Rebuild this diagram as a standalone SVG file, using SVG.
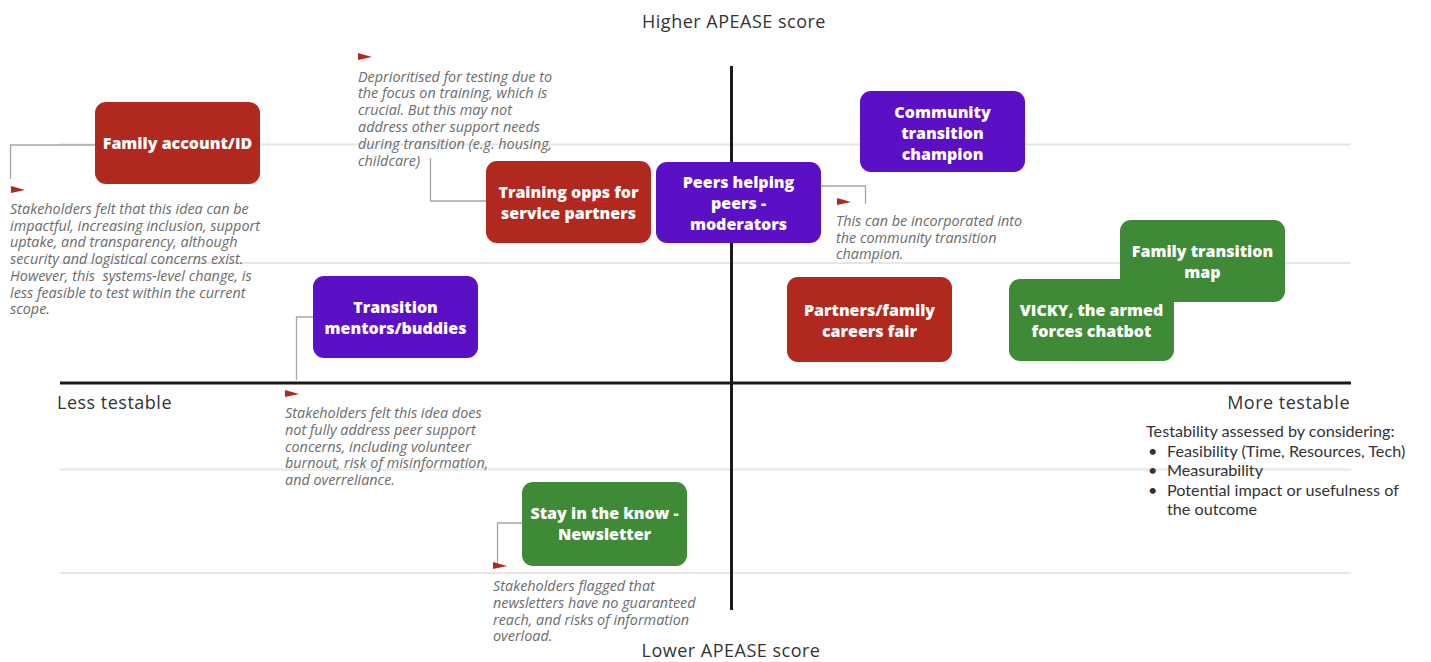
<svg xmlns="http://www.w3.org/2000/svg" width="1431" height="662" viewBox="0 0 1431 662">
  <defs>
    <style>
      .grid { stroke: #e6e6e6; stroke-width: 2; fill: none; }
      .axis { stroke: #1a1a1a; stroke-width: 3; fill: none; }
      .red { fill: #b1281f; }
      .purple { fill: #5c10c6; }
      .green { fill: #3f8a36; }
      .label { font-family: "Open Sans", "Liberation Sans", sans-serif; font-weight: 800; font-size: 16px; fill: #ffffff; text-anchor: middle; }
      .note { font-family: "Open Sans", "Liberation Sans", sans-serif; font-style: italic; font-size: 14.4px; fill: #6b6b6b; }
      .axislabel { font-family: "Open Sans", "Liberation Sans", sans-serif; font-size: 18px; letter-spacing: 0.5px; fill: #333333; }
      .legend { font-family: "Lato", "Open Sans", "Liberation Sans", sans-serif; font-size: 16.2px; fill: #333333; }
      .conn { stroke: #a6a6a6; stroke-width: 1.3; fill: none; }
      .flag { fill: #b1281f; }
      .squiggle { stroke: #e02020; stroke-width: 1.2; fill: none; }
    </style>
    <path id="flag" d="M0,0 L14,4 L0,7 Z"/>
  </defs>

  <rect width="1431" height="662" fill="#ffffff"/>

  <!-- background grid -->
  <g id="grid">
    <line class="grid" x1="60" y1="144.5" x2="1351" y2="144.5"/>
    <line class="grid" x1="60" y1="263" x2="1351" y2="263"/>
    <line class="grid" x1="60" y1="469.5" x2="1351" y2="469.5"/>
    <line class="grid" x1="60" y1="573" x2="1351" y2="573"/>
  </g>

  <!-- axes -->
  <g id="axes">
    <line class="axis" x1="60" y1="383" x2="1351" y2="383"/>
    <line class="axis" x1="731.5" y1="66" x2="731.5" y2="610"/>
    <text class="axislabel" x="734" y="28" text-anchor="middle">Higher APEASE score</text>
    <text class="axislabel" x="731" y="657" text-anchor="middle">Lower APEASE score</text>
    <text class="axislabel" x="57" y="409">Less testable</text>
    <text class="axislabel" x="1350" y="409" text-anchor="end">More testable</text>
  </g>

  <!-- connectors and flags -->
  <g id="connectors">
    <polyline class="conn" points="95,145 10.5,145 10.5,179"/>
    <use href="#flag" class="flag" x="11" y="186"/>
    <polyline class="conn" points="487,201 430.5,201 430.5,158"/>
    <use href="#flag" class="flag" x="358" y="53"/>
    <polyline class="conn" points="821,186 865.5,186 865.5,204"/>
    <use href="#flag" class="flag" x="837" y="198"/>
    <polyline class="conn" points="313,317 296.5,317 296.5,380"/>
    <use href="#flag" class="flag" x="285" y="390"/>
    <polyline class="conn" points="522,523 497.5,523 497.5,564"/>
    <use href="#flag" class="flag" x="493" y="562"/>
  </g>

  <!-- annotations -->
  <g id="note-family-account">
    <text class="note" x="10" y="214">Stakeholders felt that this idea can be</text>
    <text class="note" x="10" y="230.7">impactful, increasing inclusion, support</text>
    <text class="note" x="10" y="247.4">uptake, and transparency, although</text>
    <text class="note" x="10" y="264.1">security and logistical concerns exist.</text>
    <text class="note" x="10" y="280.8" xml:space="preserve">However, this  systems-level change, is</text>
    <text class="note" x="10" y="297.5">less feasible to test within the current</text>
    <text class="note" x="10" y="314.2">scope.</text>
  </g>
  <g id="note-training">
    <text class="note" x="358" y="81.5">Deprioritised for testing due to</text>
    <text class="note" x="358" y="98.3">the focus on training, which is</text>
    <text class="note" x="358" y="115.1">crucial. But this may not</text>
    <text class="note" x="358" y="131.9">address other support needs</text>
    <text class="note" x="358" y="148.7">during transition (e.g. housing,</text>
    <text class="note" x="358" y="165.5">childcare)</text>
  </g>
  <g id="note-peers">
    <text class="note" x="836" y="226">This can be incorporated into</text>
    <text class="note" x="836" y="242.7">the community transition</text>
    <text class="note" x="836" y="259.4">champion.</text>
  </g>
  <g id="note-mentors">
    <text class="note" x="285" y="418">Stakeholders felt this idea does</text>
    <text class="note" x="285" y="434.8">not fully address peer support</text>
    <text class="note" x="285" y="451.6">concerns, including volunteer</text>
    <text class="note" x="285" y="468.4">burnout, risk of misinformation,</text>
    <text class="note" x="285" y="485.2">and overreliance.</text>
  </g>
  <g id="note-newsletter">
    <text class="note" x="493" y="591">Stakeholders flagged that</text>
    <text class="note" x="493" y="607.8">newsletters have no guaranteed</text>
    <text class="note" x="493" y="624.6">reach, and risks of information</text>
    <text class="note" x="493" y="641.4">overload.</text>
  </g>

  <!-- idea nodes -->
  <g id="node-family-account">
    <rect class="red" x="95" y="102" width="165" height="82" rx="11"/>
    <text class="label" x="177.5" y="149">Family account/ID</text>
  </g>
  <g id="node-training-opps">
    <rect class="red" x="486" y="161" width="165" height="82" rx="11"/>
    <text class="label" x="568.5" y="198">Training opps for</text>
    <text class="label" x="568.5" y="218.5">service partners</text>
    <path class="squiggle" d="M573,202.5 l2,-1.5 l2,1.5 l2,-1.5 l2,1.5 l2,-1.5 l2,1.5 l2,-1.5 l2,1.5 l2,-1.5 l2,1.5 l2,-1.5 l2,1.5 l2,-1.5 l2,1.5 l2,-1.5 l2,1.5 l2,-1.5 l2,1.5 l2,-1.5"/>
  </g>
  <g id="node-peers-helping-peers">
    <rect class="purple" x="656" y="162" width="165" height="81" rx="11"/>
    <text class="label" x="738.5" y="188">Peers helping</text>
    <text class="label" x="738.5" y="209">peers -</text>
    <text class="label" x="738.5" y="230">moderators</text>
  </g>
  <g id="node-community-champion">
    <rect class="purple" x="860" y="91" width="165" height="81" rx="11"/>
    <text class="label" x="942.5" y="118">Community</text>
    <text class="label" x="942.5" y="139">transition</text>
    <text class="label" x="942.5" y="160">champion</text>
  </g>
  <g id="node-transition-mentors">
    <rect class="purple" x="313" y="276" width="165" height="82" rx="11"/>
    <text class="label" x="395.5" y="313">Transition</text>
    <text class="label" x="395.5" y="333.5">mentors/buddies</text>
  </g>
  <g id="node-careers-fair">
    <rect class="red" x="787" y="277" width="165" height="85" rx="11"/>
    <text class="label" x="869.5" y="316">Partners/family</text>
    <text class="label" x="869.5" y="336.5">careers fair</text>
  </g>
  <g id="node-family-transition-map">
    <rect class="green" x="1120" y="220" width="165" height="82" rx="11"/>
    <text class="label" x="1202.5" y="257">Family transition</text>
    <text class="label" x="1202.5" y="277.5">map</text>
  </g>
  <g id="node-vicky">
    <rect class="green" x="1009" y="279" width="165" height="82" rx="11"/>
    <text class="label" x="1091.5" y="316">VICKY, the armed</text>
    <text class="label" x="1091.5" y="336.5">forces chatbot</text>
  </g>
  <g id="node-newsletter">
    <rect class="green" x="522" y="482" width="165" height="84" rx="11"/>
    <text class="label" x="604.5" y="519">Stay in the know -</text>
    <text class="label" x="604.5" y="539.5">Newsletter</text>
  </g>

  <!-- testability legend -->
  <g id="legend">
    <text class="legend" x="1146" y="437">Testability assessed by considering:</text>
    <text class="legend" x="1148" y="456.6">•</text>
    <text class="legend" x="1167" y="456.6">Feasibility (Time, Resources, Tech)</text>
    <text class="legend" x="1148" y="476.2">•</text>
    <text class="legend" x="1167" y="476.2">Measurability</text>
    <text class="legend" x="1148" y="495.8">•</text>
    <text class="legend" x="1167" y="495.8">Potential impact or usefulness of</text>
    <text class="legend" x="1167" y="515.4">the outcome</text>
  </g>
</svg>
